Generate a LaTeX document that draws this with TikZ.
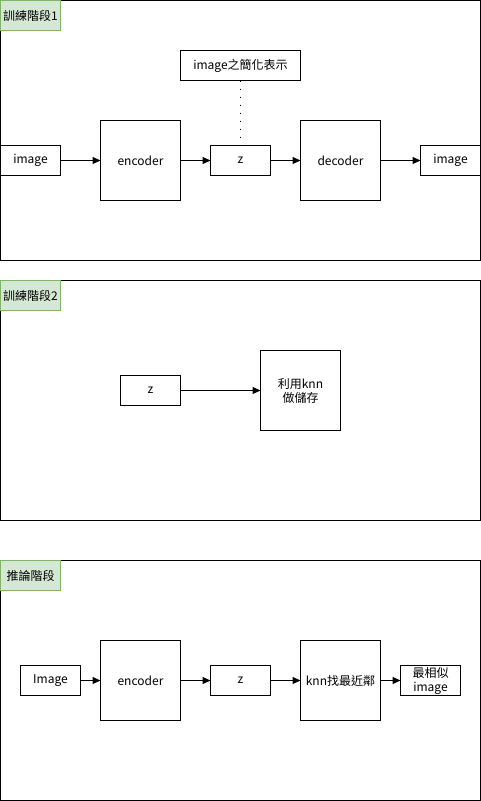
\documentclass[tikz,border=0pt]{standalone}
\usepackage{fontspec}
\setmainfont{Noto Sans CJK TC}
\usetikzlibrary{arrows.meta}
\definecolor{lblfill}{HTML}{D5E8D4}
\definecolor{lbldraw}{HTML}{82B366}
\begin{document}
\begin{tikzpicture}[x=1pt,y=-1pt,
  panel/.style={draw=black,line width=1pt},
  lbl/.style={draw=lbldraw,fill=lblfill,line width=1pt},
  box/.style={draw=black,line width=1pt},
  txt/.style={font=\fontsize{12}{14}\selectfont,align=center,inner sep=0pt},
  arr/.style={-{Triangle[length=8pt,width=7pt]},line width=1pt},
  dotline/.style={line width=1.8pt,dash pattern=on 1.8pt off 6.2pt}]
\useasboundingbox (0,0) rectangle (481,801);
% panel 1
\draw[panel] (0.5,0.5) rectangle (480.5,260.5);
\draw[lbl] (0.5,0.5) rectangle (60.5,30.5);
\node[txt] (l1) at (30.5,15.5) {訓練階段1};
\draw[box] (0.5,145.5) rectangle (60.5,175.5);
\node[txt] (img1) at (30.5,160.5) {image};
\coordinate (img1e) at (60.5,160.5);
\draw[box] (100.5,120.5) rectangle (180.5,200.5);
\node[txt] (enc1) at (140.5,160.5) {encoder};
\coordinate (enc1w) at (100.5,160.5);
\coordinate (enc1e) at (180.5,160.5);
\draw[box] (210.5,145.5) rectangle (270.5,175.5);
\node[txt] (z1) at (240.5,160.5) {z};
\coordinate (z1w) at (210.5,160.5);
\coordinate (z1e) at (270.5,160.5);
\coordinate (z1n) at (240.5,145.5);
\draw[box] (300.5,120.5) rectangle (380.5,200.5);
\node[txt] (dec1) at (340.5,160.5) {decoder};
\coordinate (dec1w) at (300.5,160.5);
\coordinate (dec1e) at (380.5,160.5);
\draw[box] (420.5,145.5) rectangle (480.5,175.5);
\node[txt] (out1) at (450.5,160.5) {image};
\coordinate (out1w) at (420.5,160.5);
\draw[box] (180.5,50.5) rectangle (300.5,80.5);
\node[txt] (simp) at (240.5,65.5) {image之簡化表示};
\coordinate (simps) at (240.5,80.5);
\draw[arr] (img1e) -- (enc1w);
\draw[arr] (enc1e) -- (z1w);
\draw[arr] (z1e) -- (dec1w);
\draw[arr] (dec1e) -- (out1w);
\draw[dotline] (simps) -- (z1n);
% panel 2
\draw[panel] (0.5,280.5) rectangle (480.5,520.5);
\draw[lbl] (0.5,280.5) rectangle (60.5,310.5);
\node[txt] (l2) at (30.5,295.5) {訓練階段2};
\draw[box] (120.5,375.5) rectangle (180.5,405.5);
\node[txt] (z2) at (150.5,390.5) {z};
\coordinate (z2e) at (180.5,390.5);
\draw[box] (260.5,350.5) rectangle (340.5,430.5);
\node[txt] (knn2) at (300.5,390.5) {利用knn\\做儲存};
\coordinate (knn2w) at (260.5,390.5);
\draw[arr] (z2e) -- (knn2w);
% panel 3
\draw[panel] (0.5,560.5) rectangle (480.5,800.5);
\draw[lbl] (0.5,560.5) rectangle (60.5,590.5);
\node[txt] (l3) at (30.5,575.5) {推論階段};
\draw[box] (20.5,665.5) rectangle (80.5,695.5);
\node[txt] (img3) at (50.5,680.5) {Image};
\coordinate (img3e) at (80.5,680.5);
\draw[box] (100.5,640.5) rectangle (180.5,720.5);
\node[txt] (enc3) at (140.5,680.5) {encoder};
\coordinate (enc3w) at (100.5,680.5);
\coordinate (enc3e) at (180.5,680.5);
\draw[box] (210.5,665.5) rectangle (270.5,695.5);
\node[txt] (z3) at (240.5,680.5) {z};
\coordinate (z3w) at (210.5,680.5);
\coordinate (z3e) at (270.5,680.5);
\draw[box] (300.5,640.5) rectangle (380.5,720.5);
\node[txt] (knn3) at (340.5,680.5) {knn找最近鄰};
\coordinate (knn3w) at (300.5,680.5);
\coordinate (knn3e) at (380.5,680.5);
\draw[box] (400.5,665.5) rectangle (460.5,695.5);
\node[txt] (res3) at (430.5,680.5) {最相似\\image};
\coordinate (res3w) at (400.5,680.5);
\draw[arr] (img3e) -- (enc3w);
\draw[arr] (enc3e) -- (z3w);
\draw[arr] (z3e) -- (knn3w);
\draw[arr] (knn3e) -- (res3w);
\end{tikzpicture}
\end{document}
